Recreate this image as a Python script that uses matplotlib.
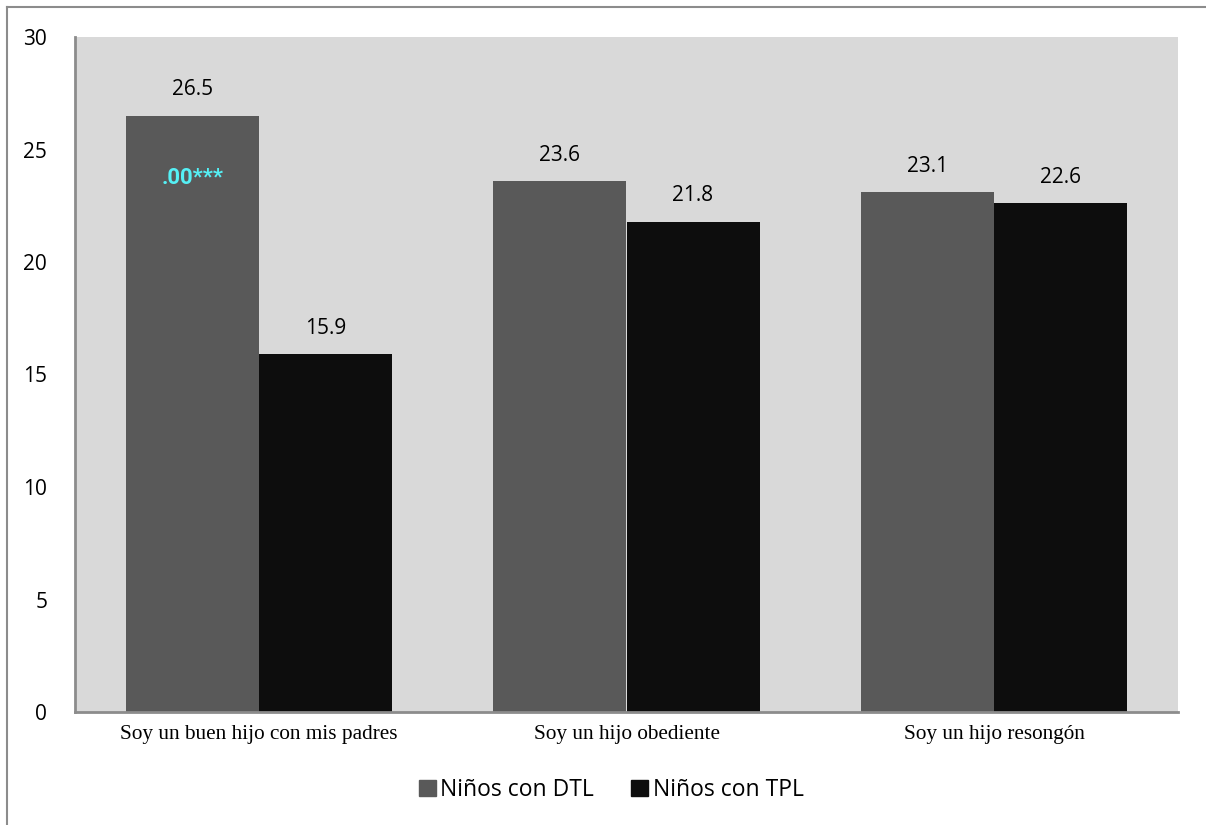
import matplotlib
matplotlib.use("Agg")
import matplotlib.pyplot as plt
from matplotlib.patches import Rectangle
from matplotlib.lines import Line2D
import numpy as np

categories = ["Soy un buen hijo con mis padres", "Soy un hijo obediente", "Soy un hijo resongón"]
dtl_values = [26.5, 23.6, 23.1]
tpl_values = [15.9, 21.8, 22.6]
series_names = ["Niños con DTL", "Niños con TPL"]
sig_note = ".00***"

fig = plt.figure(figsize=(12.06, 8.25), dpi=100)
W, H = 1206, 825
ax = fig.add_axes([75 / W, 1 - 712 / H, (1178 - 75) / W, (712 - 37) / H])
ax.set_facecolor("#d9d9d9")

x = np.arange(len(categories))
bw = 0.362
b1 = ax.bar(x - bw / 2, dtl_values, bw, color="#595959", zorder=2)
b2 = ax.bar(x + bw / 2, tpl_values, bw, color="#0d0d0d", zorder=2)

ax.set_xlim(-0.5, 2.5)
ax.set_ylim(0, 30)
ax.set_yticks(range(0, 31, 5))
ax.set_yticklabels([str(v) for v in range(0, 31, 5)], fontsize=15, family="Open Sans")
ax.tick_params(axis="y", length=0, pad=20)
ax.set_xticks(x)
ax.set_xticklabels(categories, fontsize=15.3, family="Liberation Serif")
ax.tick_params(axis="x", length=0, pad=9)

for s in ["top", "right"]:
    ax.spines[s].set_visible(False)
for s in ["left", "bottom"]:
    ax.spines[s].set_color("#8c8c8c")
    ax.spines[s].set_linewidth(2)

for bars, vals in [(b1, dtl_values), (b2, tpl_values)]:
    for r, v in zip(bars, vals):
        ax.annotate(f"{v:.1f}", (r.get_x() + r.get_width() / 2, v),
                    xytext=(0, 11), textcoords="offset points",
                    ha="center", va="bottom", fontsize=15, family="Open Sans")

ax.text(x[0] - bw / 2, dtl_values[0] - 2.75, sig_note, ha="center", va="center",
        color="#55f0f5", fontsize=16, fontweight="bold", family="Roboto",
        fontstretch="condensed", zorder=3)

# outer frame
fig.add_artist(Line2D([7 / W, 1], [1 - 7 / H, 1 - 7 / H], transform=fig.transFigure,
                      color="#8c8c8c", lw=1.5))
fig.add_artist(Line2D([7 / W, 7 / W], [0, 1 - 7 / H], transform=fig.transFigure,
                      color="#8c8c8c", lw=1.5))

handles = [Rectangle((0, 0), 1, 1, color="#595959"), Rectangle((0, 0), 1, 1, color="#0d0d0d")]
fig.legend(handles, series_names, loc="center", bbox_to_anchor=(611 / W, 1 - 790 / H),
           ncol=2, frameon=False, prop={"family": "Open Sans", "size": 16.5},
           handlelength=0.75, handleheight=0.75, handletextpad=0.2, columnspacing=1.6)

fig.savefig("out.png", dpi=100)
